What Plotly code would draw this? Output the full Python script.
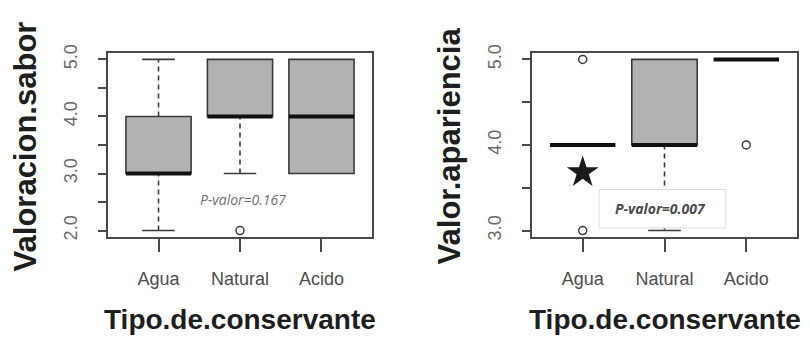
import plotly.graph_objects as go

# Boxplot summaries per preservative type
categories = ["Agua", "Natural", "Acido"]

sabor_low = [2, 3, 3]
sabor_q1 = [3, 4, 3]
sabor_med = [3, 4, 4]
sabor_q3 = [4, 5, 5]
sabor_high = [5, 5, 5]
sabor_out_cat = ["Natural"]
sabor_out_val = [2]

apar_low = [4, 3, 5]
apar_q1 = [4, 4, 5]
apar_med = [4, 4, 5]
apar_q3 = [4, 5, 5]
apar_high = [4, 5, 5]
apar_out_cat = ["Agua", "Agua", "Acido"]
apar_out_val = [3, 5, 4]

star_cat = ["Agua"]
star_val = [3.68]

sabor_ticks = [2.0, 2.5, 3.0, 3.5, 4.0, 4.5, 5.0]
apar_ticks = [3.0, 3.5, 4.0, 4.5, 5.0]

W, H = 810, 344
FONT = "Liberation Sans, Arial, sans-serif"
EDGE = "#3a3a3a"
FILL = "#b2b2b4"

fig = go.Figure()
shapes = []


def add_boxes(xr, yr, low, q1, med, q3, high):
    for i in range(len(categories)):
        c = i + 1
        hw = 0.4
        if q3[i] > q1[i]:
            shapes.append(dict(type="rect", xref=xr, yref=yr, x0=c - hw, x1=c + hw,
                               y0=q1[i], y1=q3[i], fillcolor=FILL,
                               line=dict(color=EDGE, width=1.6), layer="above"))
        if high[i] > q3[i]:
            shapes.append(dict(type="line", xref=xr, yref=yr, x0=c, x1=c, y0=q3[i], y1=high[i],
                               line=dict(color=EDGE, width=1.6, dash="5px,4px"), layer="above"))
            shapes.append(dict(type="line", xref=xr, yref=yr, x0=c - 0.2, x1=c + 0.2,
                               y0=high[i], y1=high[i], line=dict(color=EDGE, width=1.6), layer="above"))
        if low[i] < q1[i]:
            shapes.append(dict(type="line", xref=xr, yref=yr, x0=c, x1=c, y0=low[i], y1=q1[i],
                               line=dict(color=EDGE, width=1.6, dash="5px,4px"), layer="above"))
            shapes.append(dict(type="line", xref=xr, yref=yr, x0=c - 0.2, x1=c + 0.2,
                               y0=low[i], y1=low[i], line=dict(color=EDGE, width=1.6), layer="above"))
        shapes.append(dict(type="line", xref=xr, yref=yr, x0=c - hw, x1=c + hw,
                           y0=med[i], y1=med[i], line=dict(color="#111111", width=4), layer="above"))


add_boxes("x", "y", sabor_low, sabor_q1, sabor_med, sabor_q3, sabor_high)
add_boxes("x2", "y2", apar_low, apar_q1, apar_med, apar_q3, apar_high)

# white label panel for the second p-value
shapes.append(dict(type="rect", xref="x2", yref="y2", x0=1.2, x1=2.75, y0=3.03, y1=3.48,
                   fillcolor="white", line=dict(color="#dcdcdc", width=1), layer="above"))

idx = {c: i + 1 for i, c in enumerate(categories)}

fig.add_trace(go.Scatter(x=[idx[c] for c in sabor_out_cat], y=sabor_out_val, mode="markers",
                         marker=dict(symbol="circle-open", size=8, color=EDGE, line=dict(width=1.5)),
                         xaxis="x", yaxis="y", showlegend=False, cliponaxis=False))
fig.add_trace(go.Scatter(x=[idx[c] for c in apar_out_cat], y=apar_out_val, mode="markers",
                         marker=dict(symbol="circle-open", size=8, color=EDGE, line=dict(width=1.5)),
                         xaxis="x2", yaxis="y2", showlegend=False, cliponaxis=False))
fig.add_trace(go.Scatter(x=[idx[c] for c in star_cat], y=star_val, mode="markers",
                         marker=dict(symbol="star", size=24, color="#1a1a1a"),
                         xaxis="x2", yaxis="y2", showlegend=False))


def px_x(p):
    return p / W


def px_y(p):
    return 1 - p / H


xcommon = dict(range=[0.38, 3.62], tickvals=[1, 2, 3], ticktext=categories,
               showline=True, mirror=True, linecolor="#4a4a4a", linewidth=1.6,
               ticks="outside", ticklen=13, tickwidth=1.6, tickcolor="#4a4a4a",
               showgrid=False, zeroline=False, ticklabelstandoff=11,
               tickfont=dict(family=FONT, size=18, color="#4d4d4d"))


def ycommon(ticks, rng):
    return dict(range=rng, tickvals=ticks,
                ticktext=[f"{t:.1f}" if float(t).is_integer() else "" for t in ticks],
                tickangle=-90, showline=True, mirror=True, linecolor="#4a4a4a", linewidth=1.6,
                ticks="outside", ticklen=8, tickwidth=1.6, tickcolor="#4a4a4a",
                showgrid=False, zeroline=False, ticklabelstandoff=14,
                tickfont=dict(family=FONT, size=18, color="#6a6a6a"))


ydom = [px_y(237), px_y(46)]


def label(text, x, y, size, color, angle=0, xref="paper", yref="paper", family=FONT):
    return dict(text=text, xref=xref, yref=yref, x=x, y=y, textangle=angle,
                xanchor="center", yanchor="middle", showarrow=False,
                font=dict(family=family, size=size, color=color))


fig.update_layout(
    width=W, height=H, margin=dict(l=0, r=0, t=0, b=0),
    paper_bgcolor="white", plot_bgcolor="white",
    xaxis=dict(domain=[px_x(108), px_x(372)], anchor="y", **xcommon),
    yaxis=dict(domain=ydom, anchor="x", **ycommon(sabor_ticks, [1.88, 5.12])),
    xaxis2=dict(domain=[px_x(532), px_x(797)], anchor="y2", **xcommon),
    yaxis2=dict(domain=ydom, anchor="x2", **ycommon(apar_ticks, [2.92, 5.08])),
    shapes=shapes,
    annotations=[
        label("<b>Valoracion.sabor</b>", px_x(25), px_y(143), 31, "#1e1e1e", angle=-90),
        label("<b>Valor.apariencia</b>", px_x(449), px_y(143), 31, "#1e1e1e", angle=-90),
        label("<b>Tipo.de.conservante</b>", px_x(240), px_y(322), 28, "#1e1e1e"),
        label("<b>Tipo.de.conservante</b>", px_x(665), px_y(322), 28, "#1e1e1e"),
        label("<i>P-valor=0.167</i>", 2.04, 2.54, 14, "#707070", xref="x", yref="y",
              family="Open Sans, sans-serif"),
        label("<i><b>P-valor=0.007</b></i>", 1.95, 3.26, 14, "#4a4a4a", xref="x2", yref="y2",
              family="Open Sans, sans-serif"),
    ],
)

fig.write_html("out.html")
